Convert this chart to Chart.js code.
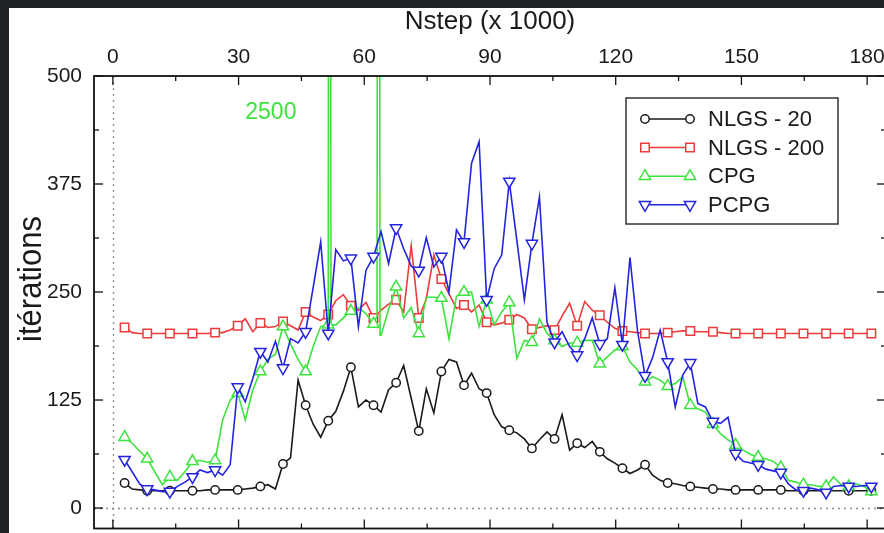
<!DOCTYPE html>
<html><head><meta charset="utf-8">
<script src="https://cdn.jsdelivr.net/npm/chart.js@4.4.1/dist/chart.umd.min.js"></script>
<style>
html,body{margin:0;padding:0;overflow:hidden;background:#222327;width:884px;height:533px;}
#paper{position:absolute;left:9px;top:8px;width:900px;height:540px;background:#fff;}
#wrap{position:absolute;left:0;top:0;width:900px;height:533px;}
</style></head><body>
<div id="paper"></div>
<div id="wrap"><canvas id="c" width="900" height="533"></canvas></div>
<script>
// ---- data (Nstep in thousands) ----
const nstep = [2.8,4.6,6.4,8.2,10.0,11.8,13.6,15.4,17.2,19.0,20.8,22.6,24.4,26.2,28.0,29.8,31.6,33.4,35.2,37.0,
38.8,40.6,42.4,44.2,46.0,47.8,49.6,51.4,53.2,55.0,56.8,58.6,60.4,62.2,64.0,65.8,67.6,69.4,71.2,73.0,
74.8,76.6,78.4,80.2,82.0,83.8,85.6,87.4,89.2,91.0,92.8,94.6,96.4,98.2,100.0,101.8,103.6,105.4,107.2,109.0,
110.8,112.6,114.4,116.2,118.0,119.8,121.6,123.4,125.2,127.0,128.8,130.6,132.4,134.2,136.0,137.8,139.6,141.4,143.2,145.0,
146.8,148.6,150.4,152.2,154.0,155.8,157.6,159.4,161.2,163.0,164.8,166.6,168.4,170.2,172.0,173.8,175.6,177.4,179.2,181.0];

const nlgs20 = [29,22,21,20,20,20,20,20,20,20,20,21,21,21,21,21,22,23,25,27,
22,51,58,148,119,97,82,101,112,135,163,117,125,119,111,137,145,165,127,89,
138,110,158,172,169,142,156,138,133,108,94,90,87,80,69,79,88,80,108,67,
75,70,77,65,57,52,46,40,44,50,38,32,29,28,26,25,24,23,22,22,
21,21,21,21,21,21,21,21,20,20,20,20,20,20,20,20,20,20,20,20];

const nlgs200 = [209,203,202,202,202,202,202,202,202,202,202,202,203,203,206,211,219,204,214,209,
210,216,211,206,227,221,217,224,240,247,234,229,238,220,229,236,241,227,304,220,
242,293,265,248,231,235,227,235,215,212,214,218,224,220,207,209,211,206,222,237,
211,239,229,223,215,208,205,204,203,202,202,202,203,204,205,205,204,204,204,203,
202,202,202,202,202,202,202,202,202,202,202,202,202,202,202,202,202,202,202,202];

const cpg = [82,75,66,57,42,27,36,32,42,54,55,53,55,102,125,133,102,137,158,172,
178,210,190,172,158,187,210,212,212,220,228,232,225,213,200,230,256,220,232,202,
244,244,243,196,245,250,250,210,241,212,227,238,173,194,192,219,202,194,187,191,
191,194,194,167,175,183,187,169,160,146,152,148,141,144,152,119,115,111,97,86,
79,73,67,62,59,57,54,47,32,30,27,27,25,25,36,27,25,28,25,19];

// CPG excursions that leave the plot (value 2500, marked on the chart)
const cpgSpikeNstep = [51.7, 52.05, 63.05, 63.4, 63.75];
const cpgSpikeValue = [2500, 212, 222, 2500, 200];

const pcpg = [56,42,28,22,21,19,19,25,30,36,44,41,44,38,50,140,123,150,181,169,
193,162,196,191,204,255,308,202,299,286,289,210,275,291,320,283,324,300,280,275,
313,279,291,250,322,308,399,424,241,277,293,378,310,241,306,360,215,192,204,187,
177,196,220,190,196,255,189,290,205,153,174,206,169,117,154,168,121,117,100,98,
105,63,54,52,50,45,43,41,28,21,20,23,21,18,25,26,25,25,26,25];

const xTickValues = [0,30,60,90,120,150,180];
const xMinorValues = [15,45,75,105,135,165];
const yTickValues = [0,125,250,375,500];
const yMinorValues = [62.5,187.5,312.5,437.5];
const seriesNames = ['NLGS - 20','NLGS - 200','CPG','PCPG'];
const spikeLabel = '2500';
const spikeLabelPos = [37.7, 457];

// ---- build points ----
function pts(vals){ return vals.map((v,i)=>({x:nstep[i], y:v, m:(i%3===0)})); }
const cpgPts = pts(cpg).concat(cpgSpikeNstep.map((x,i)=>({x:x, y:cpgSpikeValue[i], m:false})))
  .sort((a,b)=>a.x-b.x);

const FONT = "'Liberation Sans', Arial, Helvetica, sans-serif";
const COLORS = ['#1a1a1a','#ec3b3b','#3ee23e','#2424e0'];
const mk = (r)=> (ctx)=> (ctx.raw && ctx.raw.m) ? r : 0;

function ds(label, data, color, style, r, rot, order){
  return {label, data, borderColor:color, backgroundColor:'#ffffff', pointBackgroundColor:'#ffffff',
    pointBorderColor:color, borderWidth:1.6, pointBorderWidth:1.5, pointStyle:style, pointRotation:rot,
    pointRadius:mk(r), pointHoverRadius:mk(r), tension:0, order, _r:r};
}

const datasets = [
  ds(seriesNames[0], pts(nlgs20), COLORS[0], 'circle', 4.2, 0, 4),
  ds(seriesNames[1], pts(nlgs200), COLORS[1], 'rect', 6, 0, 3),
  ds(seriesNames[2], cpgPts, COLORS[2], 'triangle', 6.5, 0, 2),
  ds(seriesNames[3], pts(pcpg), COLORS[3], 'triangle', 6.5, 180, 1)
];

const framePlugin = {
  id:'frame',
  beforeDatasetsDraw(chart){
    const {ctx, chartArea:a, scales:{x,y}} = chart;
    ctx.save();
    ctx.strokeStyle = '#8a8a8a'; ctx.lineWidth = 1.3; ctx.setLineDash([2,4]);
    const x0 = Math.round(x.getPixelForValue(0))+0.5, y0 = Math.round(y.getPixelForValue(0))+0.5;
    ctx.beginPath(); ctx.moveTo(x0,a.top); ctx.lineTo(x0,a.bottom); ctx.stroke();
    ctx.beginPath(); ctx.moveTo(a.left,y0); ctx.lineTo(a.right,y0); ctx.stroke();
    ctx.restore();
  },
  afterDatasetsDraw(chart){
    const {ctx, chartArea:a, scales:{x,y}} = chart;
    ctx.save();
    ctx.strokeStyle = '#111'; ctx.lineWidth = 1.3;
    const tick = (x1,y1,x2,y2)=>{ctx.beginPath();ctx.moveTo(x1,y1);ctx.lineTo(x2,y2);ctx.stroke();};
    xTickValues.concat(xMinorValues).forEach(v=>{
      const p = x.getPixelForValue(v); const L = xTickValues.includes(v)?9:5;
      tick(p,a.top,p,a.top+L); tick(p,a.bottom,p,a.bottom-L);
    });
    yTickValues.concat(yMinorValues).forEach(v=>{
      const p = y.getPixelForValue(v); const L = yTickValues.includes(v)?9:5;
      tick(a.left,p,a.left+L,p); tick(a.right,p,a.right-L,p);
    });
    ctx.lineWidth = 1.8; ctx.strokeStyle='#111';
    ctx.strokeRect(a.left, a.top, a.right-a.left, a.bottom-a.top);

    // off-scale label
    ctx.fillStyle = COLORS[2]; ctx.font = "23px "+FONT; ctx.textAlign='center'; ctx.textBaseline='middle';
    ctx.fillText(spikeLabel, x.getPixelForValue(spikeLabelPos[0]), y.getPixelForValue(spikeLabelPos[1]));

    // y title
    ctx.fillStyle = '#1a1a1a'; ctx.font = "31px "+FONT; ctx.textBaseline='alphabetic';
    ctx.translate(41, 279); ctx.scale(1.05,1); ctx.rotate(-Math.PI/2);
    ctx.fillText('itérations', 0, 0);
    ctx.restore();

    // legend
    ctx.save();
    const bx=626, by=98, bw=212, bh=126;
    ctx.fillStyle='#fff'; ctx.fillRect(bx,by,bw,bh);
    ctx.strokeStyle='#333'; ctx.lineWidth=1.5; ctx.strokeRect(bx,by,bw,bh);
    chart.data.datasets.forEach((d,i)=>{
      const yy = 119 + i*28.6;
      ctx.strokeStyle = d.borderColor; ctx.lineWidth = 1.5;
      ctx.beginPath(); ctx.moveTo(645,yy); ctx.lineTo(690,yy); ctx.stroke();
      [645,690].forEach(px=>{
        ctx.fillStyle='#fff'; ctx.strokeStyle=d.borderColor; ctx.lineWidth=1.5;
        Chart.helpers.drawPoint(ctx, {pointStyle:d.pointStyle, rotation:d.pointRotation, radius:d._r, borderWidth:1.5}, px, yy);
      });
      ctx.fillStyle='#1a1a1a'; ctx.font="22px "+FONT; ctx.textAlign='left'; ctx.textBaseline='middle';
      ctx.fillText(d.label, 708, yy+1);
    });
    ctx.restore();
  }
};

new Chart(document.getElementById('c'), {
  type:'line',
  data:{datasets},
  plugins:[framePlugin],
  options:{
    responsive:false, animation:false, devicePixelRatio:1,
    layout:{autoPadding:false, padding:{left:0,right:14,top:0,bottom:4.5}},
    plugins:{legend:{display:false}, tooltip:{enabled:false}},
    elements:{line:{borderJoinStyle:'miter'}},
    scales:{
      x:{type:'linear', position:'top', min:-4.5, max:184.5,
        afterBuildTicks:(s)=>{ s.ticks = xTickValues.map(v=>({value:v})); },
        afterFit:(s)=>{ s.height = 76; s.paddingLeft = 0; s.paddingRight = 0; },
        grid:{display:false, drawTicks:false}, border:{display:false},
        ticks:{padding:6, color:'#1a1a1a', font:{family:FONT,size:21}, maxRotation:0, autoSkip:false},
        title:{display:true, text:'Nstep (x 1000)', color:'#1a1a1a', font:{family:FONT,size:26}, padding:{top:6,bottom:0}}
      },
      y:{type:'linear', min:-23.7, max:500,
        afterBuildTicks:(s)=>{ s.ticks = yTickValues.map(v=>({value:v})); },
        afterFit:(s)=>{ s.width = 94; s.paddingTop = 0; s.paddingBottom = 0; },
        grid:{display:false, drawTicks:false}, border:{display:false},
        ticks:{padding:12, color:'#1a1a1a', font:{family:FONT,size:21}}
      }
    }
  }
});
</script></body></html>
